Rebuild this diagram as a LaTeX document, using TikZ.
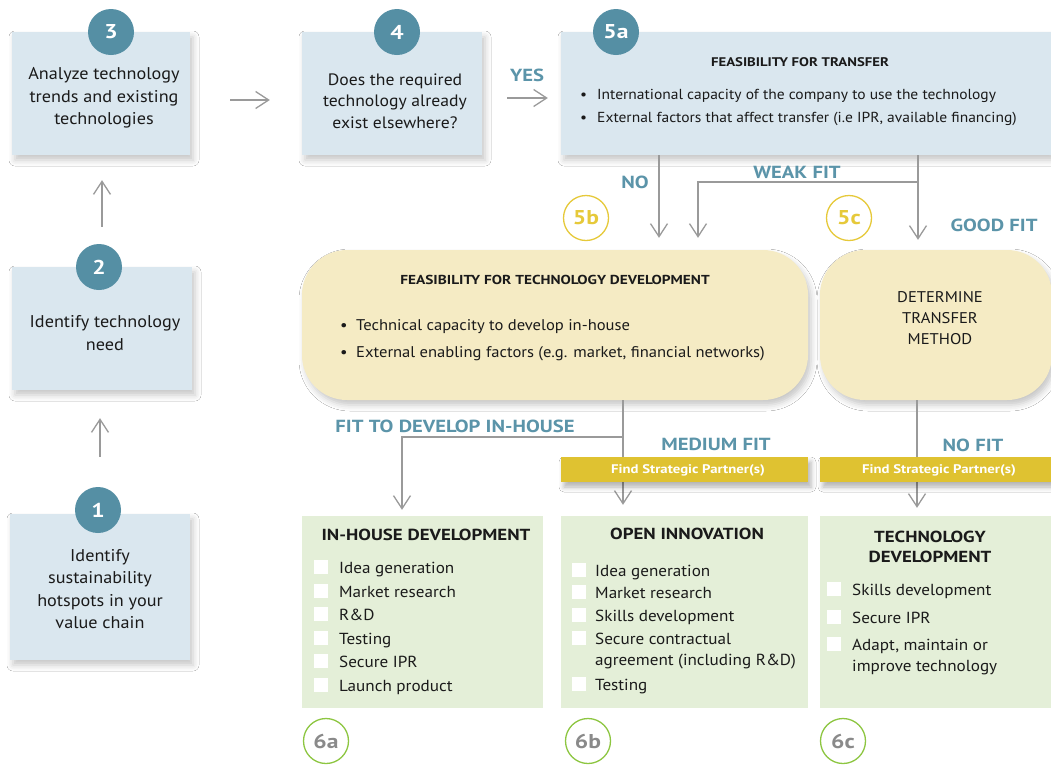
\documentclass[tikz,border=0pt]{standalone}
\usepackage{fontspec}
\setmainfont{PT Sans}[FakeStretch=1.07,BoldFeatures={FakeStretch=1.18}]
\usetikzlibrary{arrows.meta,shadows.blur,calc}

\definecolor{boxblue}{HTML}{DAE7EF}
\definecolor{numblue}{HTML}{558FA4}
\definecolor{labteal}{HTML}{5B94A9}
\definecolor{boxcream}{HTML}{F5EBC4}
\definecolor{bargold}{HTML}{DFC231}
\definecolor{ringgold}{HTML}{E6C93A}
\definecolor{boxgreen}{HTML}{E4EFD8}
\definecolor{ringgreen}{HTML}{8DC641}
\definecolor{arrgray}{HTML}{9A9A9A}
\definecolor{numgray}{HTML}{8A8A8A}
\definecolor{ink}{HTML}{1A1A1A}

\newcommand\fsz[2]{\fontsize{#1}{#2}\selectfont}

\begin{document}
\begin{tikzpicture}[x=1pt,y=-1pt,
  panel/.style={rectangle,inner sep=0pt,
    blur shadow={shadow xshift=3pt,shadow yshift=-5pt,shadow blur radius=6pt,shadow opacity=22}},
  bluepanel/.style={panel,fill=boxblue},
  creampanel/.style={panel,fill=boxcream,rounded corners=45pt},
  greenpanel/.style={rectangle,inner sep=0pt,fill=boxgreen},
  goldbar/.style={rectangle,inner sep=0pt,fill=bargold,
    blur shadow={shadow xshift=3pt,shadow yshift=-5pt,shadow blur radius=5pt,shadow opacity=30}},
  bartext/.style={text=white,font=\bfseries\fsz{12.5}{15}},
  numdisc/.style={circle,fill=numblue,minimum size=46pt,inner sep=0pt,
    text=white,font=\bfseries\fsz{20}{24}},
  goldring/.style={circle,draw=ringgold,line width=1.3pt,fill=white,minimum size=45pt,
    inner sep=0pt,text=ringgold,font=\bfseries\fsz{20}{24}},
  greenring/.style={circle,draw=ringgreen,line width=1.3pt,fill=white,minimum size=45pt,
    inner sep=0pt,text=numgray,font=\bfseries\fsz{20}{24}},
  steptext/.style={align=center,text=ink,font=\fsz{17}{22.5}},
  fitlabel/.style={text=labteal,font=\bfseries\fsz{17.5}{20}},
  headtext/.style={text=ink,font=\bfseries\fsz{12.5}{15}},
  itemtext/.style={anchor=base west,inner sep=0pt,text=ink,align=left},
  boxhead/.style={text=ink,font=\bfseries\fsz{16}{20},align=center},
  tick/.style={rectangle,fill=white,minimum size=14pt,inner sep=0pt},
  arr/.style={draw=arrgray,line width=1.3pt,
    -{Straight Barb[length=13pt,width=17pt,line width=1.3pt]}}
]
\useasboundingbox (0,0) rectangle (1051,764);
\fill[white] (0,0) rectangle (1051,764);

% ---- left column: steps 1 to 3 ----
\node[bluepanel,minimum width=178pt,minimum height=123pt] (s3) at (101,93.5) {};
\node[bluepanel,minimum width=180pt,minimum height=123pt] (s2) at (102,328.5) {};
\node[bluepanel,minimum width=180pt,minimum height=146pt] (s1) at (100,587) {};
\node[steptext] (s3t) at (104,98) {Analyze technology\\trends and existing\\technologies};
\node[steptext] (s2t) at (105,333) {Identify technology\\need};
\node[steptext] (s1t) at (100,589) {Identify\\sustainability\\hotspots in your\\value chain};
\node[numdisc] (n3) at (111,32) {3};
\node[numdisc] (n2) at (99,267) {2};
\node[numdisc] (n1) at (98,510) {1};

% ---- step 4 ----
\node[bluepanel,minimum width=180pt,minimum height=123pt] (s4) at (392,93.5) {};
\node[steptext,font=\fsz{16.5}{21.5}] (s4t) at (395,101) {Does the required\\technology already\\exist elsewhere?};
\node[numdisc] (n4) at (397,32) {4};

% ---- step 5a: feasibility for transfer ----
\node[bluepanel,minimum width=490pt,minimum height=123pt] (t5a) at (806,93.5) {};
\node[headtext] (t5ah) at (800,62) {FEASIBILITY FOR TRANSFER};
\node[itemtext,font=\fsz{14.5}{18}] (t5ai) at (580,99.5)
  {\makebox[17pt][l]{•}International capacity of the company to use the technology};
\node[itemtext,font=\fsz{14.5}{18}] (t5aii) at (580,122.5)
  {\makebox[17pt][l]{•}External factors that affect transfer (i.e IPR, available financing)};
\node[numdisc] (n5a) at (616,32) {5a};

% ---- step 5b / 5c panels ----
\node[creampanel,minimum width=506pt,minimum height=150pt] (d5b) at (555,325) {};
\node[headtext,font=\bfseries\fsz{13}{15}] (d5bh) at (555,280) {FEASIBILITY FOR TECHNOLOGY DEVELOPMENT};
\node[itemtext,font=\fsz{15.5}{19}] (d5bi) at (340,330)
  {\makebox[16pt][l]{•}Technical capacity to develop in-house};
\node[itemtext,font=\fsz{15.5}{19}] (d5bii) at (340,357)
  {\makebox[16pt][l]{•}External enabling factors (e.g. market, financial networks)};
\node[creampanel,minimum width=232pt,minimum height=150pt] (d5c) at (936,325) {};
\node[align=center,text=ink,font=\fsz{15.5}{21}] (d5ct) at (940,318) {DETERMINE\\TRANSFER\\METHOD};

% ---- step 6 panels ----
\node[greenpanel,minimum width=241pt,minimum height=192pt] (o6a) at (422.5,612) {};
\node[greenpanel,minimum width=247pt,minimum height=192pt] (o6b) at (684.5,612) {};
\node[greenpanel,minimum width=232pt,minimum height=192pt] (o6c) at (936,612) {};

% item lists: baseline of the last line / centre of the tick box / text
\node[boxhead] (o6ah) at (426,535) {IN-HOUSE DEVELOPMENT};
\foreach \y/\b/\t [count=\i] in {573/567/Idea generation,597/591/Market research,620/614/R\&D,
    644/638/Testing,667/661/Secure IPR,691/685/Launch product}{
  \node[tick] (a\i box) at (321,\b) {};
  \node[itemtext,font=\fsz{16}{21}] (a\i) at (339,\y) {\t};
}

\node[boxhead] (o6bh) at (687,534) {OPEN INNOVATION};
\foreach \y/\b/\t [count=\i] in {576/570/Idea generation,598/592/Market research,
    621/615/Skills development,665/638/Secure contractual\\agreement (including R\&D),690/684/Testing}{
  \node[tick] (b\i box) at (579,\b) {};
  \node[itemtext,font=\fsz{16}{21}] (b\i) at (595,\y) {\t};
}

\node[boxhead] (o6ch) at (930,547) {TECHNOLOGY\\DEVELOPMENT};
\foreach \y/\b/\t [count=\i] in {595/589/Skills development,623/617/Secure IPR,
    671/644/{Adapt, maintain or\\improve technology}}{
  \node[tick] (c\i box) at (834,\b) {};
  \node[itemtext,font=\fsz{16}{21}] (c\i) at (852,\y) {\t};
}

% ---- branch points ----
\coordinate (noX) at (659,0);
\coordinate (weakX) at (698,0);
\coordinate (goodX) at (918,0);
\coordinate (weakY) at (0,182);
\coordinate (midX) at (623,0);
\coordinate (houseX) at (402,0);
\coordinate (houseY) at (0,437);
\coordinate (nofitX) at (917,0);

% ---- connectors ----
\draw[arr,shorten <=57pt,shorten >=28pt] (s1.north) -- (s1.north |- s2.south);
\draw[arr,shorten <=40pt,shorten >=25pt] (s2.north) -- (s2.north |- s3.south);
\draw[arr,shorten <=40pt,shorten >=32pt] ($(s3.east)+(0,6.5)$) -- ($(s3.east -| s4.west)+(0,6.5)$);
\draw[arr,shorten <=25pt,shorten >=13pt] ($(s4.east)+(0,4.5)$) -- ($(s4.east -| t5a.west)+(0,4.5)$);
\draw[arr,shorten >=12pt] (t5a.south -| noX) -- (d5b.north -| noX);
\draw[arr,shorten >=12pt] (t5a.south -| goodX) |- (weakX |- weakY) -- (d5b.north -| weakX);
\draw[arr,shorten >=10pt] (t5a.south -| goodX) -- (d5c.north -| goodX);
\draw[arr,shorten >=11pt] (d5b.south -| midX) -- (o6b.north -| midX);
\draw[arr,shorten >=6pt] (d5b.south -| midX) |- (houseX |- houseY) -- (o6a.north -| houseX);
\draw[arr,shorten >=8pt] (d5c.south -| nofitX) -- (o6c.north -| nofitX);

% ---- partner bars (over the connectors) ----
\node[goldbar,minimum width=247pt,minimum height=25pt] (p1) at (684.5,469.5) {};
\node[bartext] (p1t) at (688,470) {Find Strategic Partner(s)};
\node[goldbar,minimum width=232pt,minimum height=25pt] (p2) at (936,469.5) {};
\node[bartext] (p2t) at (939,470) {Find Strategic Partner(s)};

% ---- branch labels ----
\node[fitlabel] (lyes) at (527,75) {YES};
\node[fitlabel] (lno) at (635,182) {NO};
\node[fitlabel] (lweak) at (797,172) {WEAK FIT};
\node[fitlabel] (lgood) at (994,225) {GOOD FIT};
\node[fitlabel] (lhouse) at (455,426) {FIT TO DEVELOP IN-HOUSE};
\node[fitlabel] (lmed) at (716,444) {MEDIUM FIT};
\node[fitlabel] (lnofit) at (973,445) {NO FIT};

% ---- step markers ----
\node[goldring] (r5b) at (586,218) {5b};
\node[goldring] (r5c) at (849,218) {5c};
\node[greenring] (r6a) at (326,741) {6a};
\node[greenring] (r6b) at (588,741) {6b};
\node[greenring] (r6c) at (843,741) {6c};
\end{tikzpicture}
\end{document}
